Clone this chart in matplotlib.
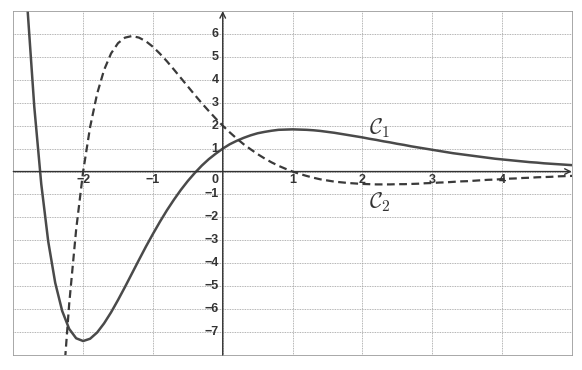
import matplotlib.pyplot as plt

# values, x step 0.1
c1_x0, c2_x0, step = -2.8, -2.3, 0.1
c1_y = [7.24, 2.83, -0.54, -3.05, -4.85, -6.08, -6.86, -7.27, -7.39, -7.29,
        -7.02, -6.62, -6.14, -5.60, -5.03, -4.44, -3.85, -3.27, -2.72, -2.19,
        -1.69, -1.23, -0.80, -0.41, -0.06, 0.26, 0.54, 0.78, 1.00, 1.19,
        1.34, 1.47, 1.58, 1.67, 1.73, 1.78, 1.82, 1.83, 1.84, 1.83,
        1.82, 1.80, 1.77, 1.73, 1.69, 1.64, 1.59, 1.54, 1.49, 1.43,
        1.38, 1.32, 1.27, 1.21, 1.16, 1.10, 1.05, 1.00, 0.95, 0.90,
        0.85, 0.80, 0.76, 0.72, 0.68, 0.64, 0.60, 0.56, 0.53, 0.50,
        0.47, 0.44, 0.41, 0.39, 0.36, 0.34, 0.32, 0.30, 0.28, 0.26]
c2_y = [-9.87, -5.78, -2.53, 0.00, 1.94, 3.39, 4.43, 5.15, 5.60, 5.84,
        5.91, 5.84, 5.68, 5.44, 5.14, 4.81, 4.45, 4.08, 3.71, 3.34,
        2.98, 2.64, 2.31, 2.00, 1.71, 1.44, 1.19, 0.97, 0.76, 0.57,
        0.40, 0.25, 0.12, 0.00, -0.10, -0.19, -0.27, -0.34, -0.39, -0.44,
        -0.47, -0.50, -0.52, -0.54, -0.55, -0.56, -0.56, -0.56, -0.55, -0.55,
        -0.54, -0.53, -0.51, -0.50, -0.48, -0.47, -0.45, -0.43, -0.42, -0.40,
        -0.38, -0.36, -0.35, -0.33, -0.31, -0.30, -0.28, -0.27, -0.25, -0.24,
        -0.23, -0.21, -0.20, -0.19, -0.18]
x_ticks = [-2, -1, 0, 1, 2, 3, 4]
y_ticks = [-7, -6, -5, -4, -3, -2, -1, 1, 2, 3, 4, 5, 6]

c1_x = [round(c1_x0 + i * step, 2) for i in range(len(c1_y))]
c2_x = [round(c2_x0 + i * step, 2) for i in range(len(c2_y))]

plt.rcParams['mathtext.fontset'] = 'cm'
fig = plt.figure(figsize=(5.82, 3.70), dpi=100)
ax = fig.add_axes([0.0229, 0.0405, 0.9595, 0.9297])
ax.set_xlim(-3, 5)
ax.set_ylim(-8, 7)

# dotted grid inside, dotted frame for the outer lines
ax.set_xticks(range(-2, 5))
ax.set_yticks(range(-7, 7))
ax.grid(True, color='#9a9a9a', lw=0.6, ls=(0, (1, 1)))
ax.tick_params(length=0, labelbottom=False, labelleft=False)
for s in ax.spines.values():
    s.set_color('#9a9a9a'); s.set_lw(0.6); s.set_linestyle((0, (1, 1)))

# axes with arrows
ax.annotate('', xy=(5, 0), xytext=(-3, 0), annotation_clip=False,
            arrowprops=dict(arrowstyle='->', lw=1.0, color='#333333', shrinkA=0, shrinkB=0))
ax.annotate('', xy=(0, 7), xytext=(0, -8), annotation_clip=False,
            arrowprops=dict(arrowstyle='->', lw=1.0, color='#333333', shrinkA=0, shrinkB=0))

lab = dict(fontsize=9, fontweight='bold', color='#333333', family='Liberation Sans')
for t in x_ticks:
    ax.text(-0.11 if t == 0 else t, -0.38, str(t).replace('-', '\u2212'), ha='center', va='center', **lab)
for t in y_ticks:
    ax.text(-0.06, t, str(t).replace('-', '\u2212'), ha='right', va='center', **lab)

ax.plot(c1_x, c1_y, color='#4a4a4a', lw=1.8, solid_capstyle='round')
ax.plot(c2_x, c2_y, color='#3a3a3a', lw=1.6, dashes=(3.5, 2.0))

ax.text(2.1, 1.88, r'$\mathcal{C}_1$', fontsize=16, color='#333333', ha='left', va='center')
ax.text(2.1, -1.33, r'$\mathcal{C}_2$', fontsize=16, color='#333333', ha='left', va='center')

fig.savefig('out.png', dpi=100)
